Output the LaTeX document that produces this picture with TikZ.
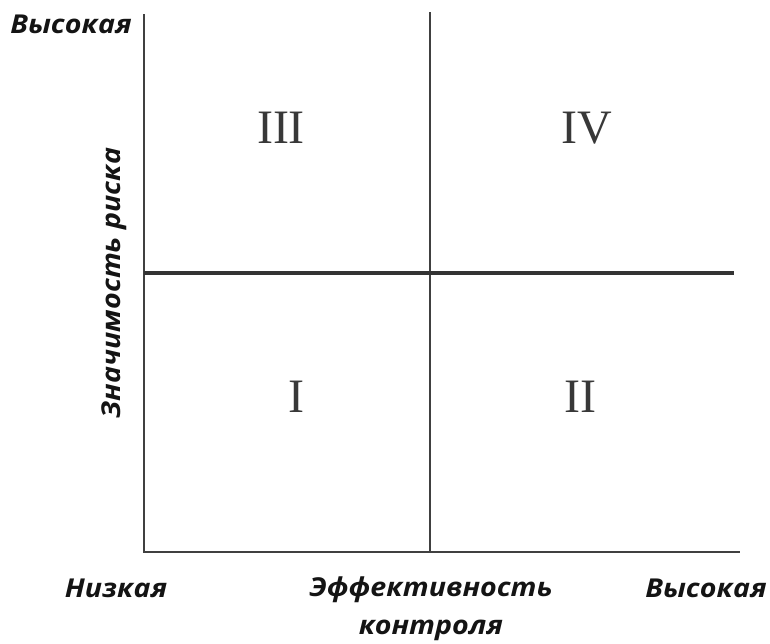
\documentclass[tikz,border=0pt]{standalone}
\usepackage{fontspec}
\setmainfont{Liberation Serif}
\newfontfamily\labfont[FakeStretch=1.1]{Open Sans}
\begin{document}
\begin{tikzpicture}[x=1pt,y=-1pt,
  axisline/.style={line width=2.8pt,draw=black!75},
  midline/.style={line width=3.2pt,draw=black!80},
  axlab/.style={font=\labfont\bfseries\itshape\fontsize{26}{38}\selectfont,inner sep=0pt,text=black!92},
  roman/.style={font=\fontsize{48}{50}\selectfont,text=black!78,inner sep=0pt}]
\useasboundingbox (0,0) rectangle (770,643);
\coordinate (tl) at (144,14);
\coordinate (bl) at (144,552);
\coordinate (br) at (740,552);
\coordinate (mt) at (430,12);
\coordinate (mb) at (430,552);
\coordinate (ml) at (144,273);
\coordinate (mr) at (734,273);
\draw[axisline] (tl) -- (bl) -- (br);
\draw[axisline] (mt) -- (mb);
\draw[midline] (ml) -- (mr);
\node[roman] (q3) at (281,128) {III};
\node[roman] (q4) at (587,128) {IV};
\node[roman] (q1) at (296,397) {I};
\node[roman] (q2) at (580,397) {II};
\node[axlab] (ytop) at (71,24) {Высокая};
\node[axlab,rotate=90] (ylab) at (114,283) {Значимость риска};
\node[axlab] (xlow) at (116,588) {Низкая};
\node[axlab,align=center] (xlab) at (431,609) {Эффективность\\контроля};
\node[axlab] (xhigh) at (706,588) {Высокая};
\end{tikzpicture}
\end{document}
